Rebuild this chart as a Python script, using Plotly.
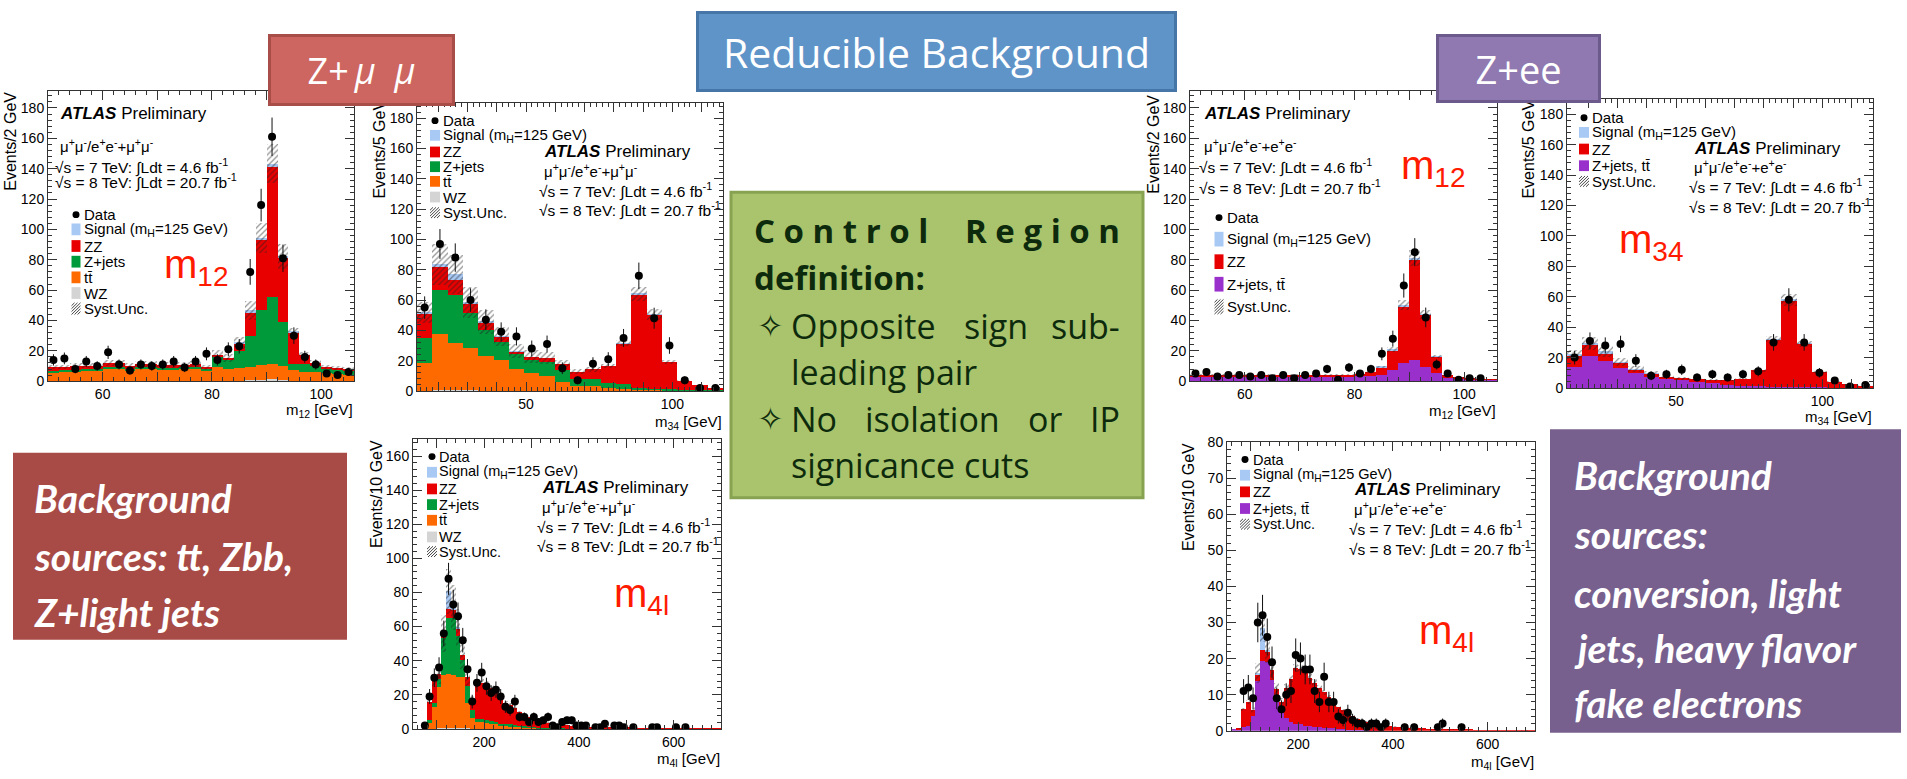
import numpy as np
import plotly.graph_objects as go

W, H = 1907, 779
ROOT_FONT = "Liberation Sans, Arial, sans-serif"
SLIDE_FONT = "Open Sans, sans-serif"
BOX_FONT = "Lato, sans-serif"

# sample colours
C_SIG = "#a9c9f5"
C_ZZ = "#e80000"
C_ZJ = "#009a3a"
C_TT = "#ff6a00"
C_WZ = "#d4d4d4"
C_ZJTT = "#9a30cc"
C_LABEL = "#ff1a00"

# binning
M12_RANGE, M12_NBINS = (50, 106), 28
M34_RANGE, M34_NBINS = (12.7, 117.3), 20
M4L_RANGE, M4L_NBINS = (50, 700), 65

# ---------------- Z + mu mu control region ----------------
M12MM_DATA = [14, 15, 8, 13, 10, 19, 11, 7, 11, 10, 11, 13, 9, 13, 18, 14, 21, 23, 72, 116, 161, 81, 30, 16, 11, 5, 4, 6]
M12MM_WZ = [0, 0, 0, 0, 0, 0, 0, 0, 0, 0, 0, 0, 0, 0, 0, 0, 0, 0.2, 0.4, 0.8, 1.2, 0.6, 0.2, 0.1, 0, 0, 0, 0]
M12MM_TT = [5.5, 6, 6.5, 7, 7, 8.5, 8.5, 7, 8, 8, 7.5, 7.5, 8, 8, 6.5, 9.5, 8, 8.5, 9, 9.5, 10, 9.5, 7, 6, 6, 5, 4.5, 4]
M12MM_ZJ = [1, 1, 1, 1, 1, 1, 1, 1, 1, 1, 1, 1, 1, 1, 2, 6, 6, 11.3, 20.3, 36.5, 44, 28.5, 4, 5, 4, 3, 3, 3]
M12MM_ZZ = [2.5, 2, 2.5, 2, 2, 2.5, 2.5, 2, 2, 2, 2, 2, 1.5, 2, 0.5, 1.5, 1, 4.8, 15.7, 46, 86, 43, 21, 6, 2, 1, 1, 1]
M12MM_SIG = [0, 0, 0, 0, 0, 0, 0, 0, 0, 0, 0, 0, 0, 0, 0, 0, 0, 0.3, 1, 1.5, 2, 0.5, 0.2, 0, 0, 0, 0, 0]

M34MM_DATA = [55, 97, 88, 60, 47, 39, 36, 28, 31, 15, 7, 18, 21, 35, 76, 48, 30, 7, 2, 2]
M34MM_WZ = [0.3, 0.5, 0.5, 0.4, 0.3, 0.3, 0.2, 0.2, 0.2, 0.2, 0.2, 0.2, 0.3, 0.4, 0.5, 0.4, 0.2, 0.1, 0, 0]
M34MM_TT = [18, 37, 31, 28, 23, 20, 14.5, 11.5, 10, 6, 3, 3, 1.5, 1, 0.5, 0.3, 0.2, 0, 0, 0]
M34MM_ZJ = [16.5, 29, 32, 23, 17, 12, 9.5, 8.5, 9, 7.5, 5, 4.5, 3.5, 3, 1, 0.5, 0.8, 0.8, 0.5, 0.5]
M34MM_ZZ = [16.5, 15, 10, 6.5, 5, 3.5, 2, 2.5, 2.5, 4, 4.5, 6.5, 11, 27, 61.5, 49, 18, 6, 3.5, 1.5]
M34MM_SIG = [0.5, 2, 3.5, 0.5, 0.3, 0.2, 0.1, 0, 0, 0, 0, 0, 0, 0.2, 0.5, 0.3, 0, 0, 0, 0]

M4LMM_DATA = [0, 0, 2, 19, 30, 36, 56, 88, 73, 66,
              52, 35, 16, 27, 33, 25, 21, 23, 19, 13,
              11, 16, 7, 7, 4, 7, 4, 5, 7, 2,
              1, 4, 5, 5, 2, 2, 2, 0, 1, 1,
              3, 0, 2, 2, 1, 0, 1, 0, 0, 0,
              1, 1, 0, 0, 0, 1, 0, 1, 0, 0,
              0, 0, 0, 0, 0]
M4LMM_WZ = [0, 0, 0, 0, 0, 0.3, 0.5, 0.6, 0.6, 0.5,
            0.4, 0.3, 0.2, 0.1, 0.1, 0.1, 0.1, 0.1, 0.1, 0.1,
            0.1, 0, 0, 0, 0, 0, 0, 0, 0, 0,
            0, 0, 0, 0, 0, 0, 0, 0, 0, 0,
            0, 0, 0, 0, 0, 0, 0, 0, 0, 0,
            0, 0, 0, 0, 0, 0, 0, 0, 0, 0,
            0, 0, 0, 0, 0]
M4LMM_TT = [0, 0, 0.5, 4, 13, 24, 31, 31.5, 31, 30,
            30, 15, 6, 4, 4, 3.5, 3, 2.5, 2, 2,
            1.5, 1.5, 1.2, 1, 0.8, 0.6, 0.5, 0.4, 0.3, 0.2,
            0.2, 0.2, 0.1, 0.1, 0, 0, 0, 0, 0, 0,
            0, 0, 0, 0, 0, 0, 0, 0, 0, 0,
            0, 0, 0, 0, 0, 0, 0, 0, 0, 0,
            0, 0, 0, 0, 0]
M4LMM_ZJ = [0, 0, 0, 1, 2, 5, 22, 33, 33.5, 24,
            10, 10, 5, 2, 2, 1.5, 1.5, 1.5, 1, 1,
            1, 0.8, 0.6, 0.5, 0.4, 0.4, 0.3, 0.3, 0.2, 0.2,
            0.1, 0.1, 0.1, 0.1, 0, 0, 0, 0, 0, 0,
            0, 0, 0, 0, 0, 0, 0, 0, 0, 0,
            0, 0, 0, 0, 0, 0, 0, 0, 0, 0,
            0, 0, 0, 0, 0]
M4LMM_ZZ = [0, 0, 1, 11, 13, 3, 2, 5.5, 5, 4.5,
            3, 5, 6, 20, 21, 21, 19.5, 17.5, 16, 12,
            11.5, 9.7, 8.2, 7.1, 5.8, 5, 4.4, 3.7, 3.1, 2.8,
            2.4, 2.1, 2.0, 1.8, 1.8, 1.6, 1.5, 1.3, 1.2, 1.1,
            1.0, 0.9, 0.8, 0.75, 0.7, 0.6, 0.55, 0.5, 0.45, 0.4,
            0.38, 0.35, 0.32, 0.3, 0.28, 0.25, 0.23, 0.21, 0.2, 0.18,
            0.16, 0.15, 0.14, 0.13, 0.12]
M4LMM_SIG = [0, 0, 0, 0, 0, 0, 0.5, 10, 1, 0.3,
             0, 0, 0, 0, 0, 0, 0, 0, 0, 0,
             0, 0, 0, 0, 0, 0, 0, 0, 0, 0,
             0, 0, 0, 0, 0, 0, 0, 0, 0, 0,
             0, 0, 0, 0, 0, 0, 0, 0, 0, 0,
             0, 0, 0, 0, 0, 0, 0, 0, 0, 0,
             0, 0, 0, 0, 0]

# ---------------- Z + e e control region ----------------
M12EE_DATA = [5, 6, 3, 4, 4, 3, 4, 2, 4, 2, 4, 5, 8, 1, 9, 5, 8, 18, 28, 63, 85, 42, 11, 5, 1, 2, 2, 0]
M12EE_ZJTT = [3, 3, 3, 3, 3, 3, 3, 3, 3, 3, 3, 3, 3, 3, 3, 3, 3.5, 4, 7.5, 12, 14, 9.5, 5, 2.5, 1.5, 1, 0.8, 0.7]
M12EE_ZZ = [1, 1, 1, 1, 1, 1, 1, 1, 1, 1, 1, 1, 1, 1, 1.2, 1.7, 2.3, 5, 12.5, 37, 66, 34, 11, 1.2, 0.5, 0.5, 0.4, 0.3]
M12EE_SIG = [0, 0, 0, 0, 0, 0, 0, 0, 0, 0, 0, 0, 0, 0, 0, 0, 0, 0.2, 0.6, 1, 1, 0.3, 0.1, 0, 0, 0, 0, 0]

M34EE_DATA = [20, 31, 28, 29, 18, 8, 9, 12, 7, 9, 7, 9, 11, 30, 58, 30, 10, 5, 1, 2]
M34EE_ZJTT = [14, 21, 18, 13, 10, 7.5, 6, 5, 4, 3, 2, 1.5, 1, 0.7, 0.5, 0.4, 0.3, 0.2, 0.1, 0.1]
M34EE_ZZ = [7.5, 7, 4.5, 3.5, 2, 2, 1.5, 1.5, 1.8, 2.2, 3, 4.5, 10.5, 31, 57, 28.5, 10, 4, 2.2, 1.5]
M34EE_SIG = [0.3, 1.5, 1.5, 0.5, 0.2, 0.1, 0, 0, 0, 0, 0, 0, 0, 0.2, 0.4, 0.2, 0, 0, 0, 0]

M4LEE_DATA = [0, 0, 0, 11, 12, 9, 30, 32, 26, 19,
              9, 6, 10, 11, 21, 20, 17, 17, 11, 8,
              15, 8, 8, 4, 3, 5, 3, 2, 2, 1,
              2, 2, 1, 2, 0, 0, 0, 1, 0, 1,
              0, 0, 0, 0, 1, 2, 0, 0, 0, 1,
              0, 0, 0, 0, 0, 0, 0, 0, 0, 0,
              0, 0, 0, 0, 0]
M4LEE_ZJTT = [0, 0.3, 0.5, 1, 1.5, 4, 13.8, 19.5, 19, 14,
              9.5, 5, 3.5, 2.5, 2, 1.8, 1.5, 1.3, 1.1, 1.0,
              0.9, 0.8, 0.7, 0.6, 0.5, 0.4, 0.3, 0.3, 0.2, 0.2,
              0.1, 0.1, 0, 0, 0, 0, 0, 0, 0, 0,
              0, 0, 0, 0, 0, 0, 0, 0, 0, 0,
              0, 0, 0, 0, 0, 0, 0, 0, 0, 0,
              0, 0, 0, 0, 0]
M4LEE_ZZ = [0, 0, 0.2, 5, 6.5, 1.7, 1.8, 3, 3, 3,
            2, 3, 8.5, 12, 15.5, 15.4, 15, 13.4, 12.3, 11,
            9.8, 8.5, 7.3, 6, 5.2, 4.4, 3.8, 3.1, 2.8, 2.3,
            2.1, 1.9, 1.7, 1.5, 1.35, 1.2, 1.1, 1.0, 0.9, 0.8,
            0.75, 0.7, 0.62, 0.56, 0.5, 0.45, 0.42, 0.38, 0.35, 0.32,
            0.3, 0.28, 0.26, 0.24, 0.22, 0.2, 0.19, 0.18, 0.17, 0.16,
            0.15, 0.14, 0.13, 0.12, 0.11]
M4LEE_SIG = [0, 0, 0, 0, 0, 0, 0.5, 6, 0.5, 0,
             0, 0, 0, 0, 0, 0, 0, 0, 0, 0,
             0, 0, 0, 0, 0, 0, 0, 0, 0, 0,
             0, 0, 0, 0, 0, 0, 0, 0, 0, 0,
             0, 0, 0, 0, 0, 0, 0, 0, 0, 0,
             0, 0, 0, 0, 0, 0, 0, 0, 0, 0,
             0, 0, 0, 0, 0]

# relative systematic uncertainty of the reducible and ZZ/signal parts
SYST_REDUCIBLE = 0.20
SYST_ZZ = 0.07

fig = go.Figure()
annotations, shapes = [], []


def P(x):
    return x / W


def Q(y):
    return 1 - y / H


def add_text(x, y, s, size=14, color="black", family=ROOT_FONT, xanchor="left",
             yanchor="middle", angle=0):
    annotations.append(dict(x=P(x), y=Q(y), xref="paper", yref="paper", text=s,
                            showarrow=False, xanchor=xanchor, yanchor=yanchor,
                            textangle=angle, borderpad=0,
                            font=dict(size=size, color=color, family=family)))


def add_rect(x0, y0, x1, y1, fill, line=None, lw=0, kind="rect"):
    shapes.append(dict(type=kind, xref="paper", yref="paper", x0=P(x0), x1=P(x1),
                       y0=Q(y1), y1=Q(y0), fillcolor=fill,
                       line=dict(color=line or fill, width=lw), layer="above"))


def add_line(x0, y0, x1, y1, color, lw=1):
    shapes.append(dict(type="line", xref="paper", yref="paper", x0=P(x0), x1=P(x1),
                       y0=Q(y0), y1=Q(y1), line=dict(color=color, width=lw), layer="above"))


def add_hatch_box(x0, y0, x1, y1, step=3):
    w, h = x1 - x0, y1 - y0
    d = -h
    while d < w:
        t0, t1 = max(0, -d), min(h, w - d)
        if t1 > t0:
            add_line(x0 + d + t0, y1 - t0, x0 + d + t1, y1 - t1, "#444", 1)
        d += step


def bin_centers(rng, n):
    edges = np.linspace(rng[0], rng[1], n + 1)
    return 0.5 * (edges[:-1] + edges[1:]), edges[1] - edges[0]


def add_panel(i, box, rng, nbins, stack, data, yrange, ydtick, yminor,
              xticks, xlabels, xminor):
    sfx = "" if i == 1 else str(i)
    xa, ya = "x" + sfx, "y" + sfx
    xc, bw = bin_centers(rng, nbins)
    base = np.zeros(nbins)
    red = np.zeros(nbins)
    irr = np.zeros(nbins)
    for vals, color, reducible in stack:
        v = np.asarray(vals, float)
        fig.add_trace(go.Bar(x=xc, y=v, base=base.copy(), width=bw,
                             marker=dict(color=color, line=dict(width=0)),
                             xaxis=xa, yaxis=ya, showlegend=False, hoverinfo="skip"))
        base += v
        if reducible:
            red += v
        else:
            irr += v
    unc = np.sqrt((SYST_REDUCIBLE * red) ** 2 + (SYST_ZZ * irr) ** 2)
    fig.add_trace(go.Bar(x=xc, y=2 * unc, base=base - unc, width=bw,
                         marker=dict(color="rgba(0,0,0,0)", line=dict(width=0),
                                     pattern=dict(shape="/", fgcolor="#222",
                                                  bgcolor="rgba(0,0,0,0)",
                                                  size=4, solidity=0.3)),
                         xaxis=xa, yaxis=ya, showlegend=False, hoverinfo="skip"))
    d = np.asarray(data, float)
    yd = [v if v > 0 else None for v in d]
    fig.add_trace(go.Scatter(x=xc, y=yd, mode="markers",
                             marker=dict(color="black", size=8),
                             error_y=dict(type="data", array=np.sqrt(d), color="#111",
                                          thickness=1, width=0),
                             xaxis=xa, yaxis=ya, showlegend=False, hoverinfo="skip"))
    l, t, r, b = box
    common = dict(showline=True, linecolor="#333", linewidth=1, mirror="ticks",
                  ticks="inside", ticklen=9, tickwidth=1, tickcolor="#333",
                  showgrid=False, zeroline=False,
                  tickfont=dict(family=ROOT_FONT, size=14, color="black"))
    fig.layout["xaxis" + sfx] = dict(domain=[P(l), P(r)], anchor=ya, range=list(rng),
                                     tickmode="array", tickvals=xticks, ticktext=xlabels,
                                     minor=dict(ticks="inside", dtick=xminor, tick0=0,
                                                ticklen=4, tickcolor="#333", showgrid=False),
                                     **common)
    fig.layout["yaxis" + sfx] = dict(domain=[Q(b), Q(t)], anchor=xa, range=list(yrange),
                                     tickmode="linear", dtick=ydtick, tick0=0,
                                     minor=dict(ticks="inside", dtick=yminor, tick0=0,
                                                ticklen=4, tickcolor="#333", showgrid=False),
                                     **common)


def add_legend(entries, xbox, xtext, ys, bw, bh, size=15):
    for (kind, color, label), y in zip(entries, ys):
        if kind == "dot":
            add_rect(xbox - 3.5, y - 3.5, xbox + 3.5, y + 3.5, "black", kind="circle")
        elif kind == "box":
            add_rect(xbox - bw / 2, y - bh / 2, xbox + bw / 2, y + bh / 2, color)
        else:
            add_hatch_box(xbox - bw / 2, y - bh / 2, xbox + bw / 2, y + bh / 2)
        add_text(xtext, y, label, size=size)


CHAN_MM = "μ<sup>+</sup>μ<sup>-</sup>/e<sup>+</sup>e<sup>-</sup>+μ<sup>+</sup>μ<sup>-</sup>"
CHAN_EE = "μ<sup>+</sup>μ<sup>-</sup>/e<sup>+</sup>e<sup>-</sup>+e<sup>+</sup>e<sup>-</sup>"
LUMI7 = "√s = 7 TeV: ∫Ldt = 4.6 fb<sup>-1</sup>"
LUMI8 = "√s = 8 TeV: ∫Ldt = 20.7 fb<sup>-1</sup>"
ATLAS = "<b><i>ATLAS</i></b> Preliminary"

LEG_MM = [("dot", None, "Data"), ("box", C_SIG, "Signal (m<sub>H</sub>=125 GeV)"),
          ("box", C_ZZ, "ZZ"), ("box", C_ZJ, "Z+jets"), ("box", C_TT, "tt\u0304"),
          ("box", C_WZ, "WZ"), ("hatch", None, "Syst.Unc.")]
LEG_EE = [("dot", None, "Data"), ("box", C_SIG, "Signal (m<sub>H</sub>=125 GeV)"),
          ("box", C_ZZ, "ZZ"), ("box", C_ZJTT, "Z+jets, tt\u0304"),
          ("hatch", None, "Syst.Unc.")]


def atlas_block(x, ys, chan):
    add_text(x, ys[0], ATLAS, size=17)
    add_text(x, ys[1], chan, size=15)
    add_text(x - 5, ys[2], LUMI7, size=15.5)
    add_text(x - 5, ys[3], LUMI8, size=15.5)


M12_TICKS = [50, 60, 70, 80, 90, 100]
M12_LABELS = ["", "60", "", "80", "", "100"]
M34_TICKS = [20, 30, 40, 50, 60, 70, 80, 90, 100, 110]
M34_LABELS = ["", "", "", "50", "", "", "", "", "100", ""]
M4L_TICKS = [100, 200, 300, 400, 500, 600, 700]
M4L_LABELS = ["", "200", "", "400", "", "600", ""]

# ---- panel 1 : m12, Z+mumu ----
add_panel(1, (48, 85, 354, 381), M12_RANGE, M12_NBINS,
          [(M12MM_WZ, C_WZ, True), (M12MM_TT, C_TT, True), (M12MM_ZJ, C_ZJ, True),
           (M12MM_ZZ, C_ZZ, False), (M12MM_SIG, C_SIG, False)],
          M12MM_DATA, (0, 191), 20, 4, M12_TICKS, M12_LABELS, 2)
atlas_block(59, [108, 140, 162, 177], CHAN_MM)
add_legend(LEG_MM, 76, 83, [211, 226, 243, 259, 275, 291, 307], 9, 12)
add_text(163, 264, "m<sub>12</sub>", size=40, color=C_LABEL)
add_text(11, 85, "Events/2 GeV", size=16, xanchor="center", yanchor="top", angle=-90)
add_text(354, 411, "m<sub>12</sub> [GeV]", size=15, xanchor="right")

# ---- panel 2 : m34, Z+mumu ----
add_panel(2, (417, 97, 723, 391), M34_RANGE, M34_NBINS,
          [(M34MM_WZ, C_WZ, True), (M34MM_TT, C_TT, True), (M34MM_ZJ, C_ZJ, True),
           (M34MM_ZZ, C_ZZ, False), (M34MM_SIG, C_SIG, False)],
          M34MM_DATA, (0, 190), 20, 4, M34_TICKS, M34_LABELS, 2)
atlas_block(543, [147, 166, 186, 206], CHAN_MM)
add_legend(LEG_MM, 435, 442, [115, 130, 147, 162, 177, 193, 209], 10, 11)
add_text(380, 93, "Events/5 GeV", size=16, xanchor="center", yanchor="top", angle=-90)
add_text(723, 423, "m<sub>34</sub> [GeV]", size=15, xanchor="right")

# ---- panel 3 : m4l, Z+mumu ----
add_panel(3, (413, 440, 721, 736), M4L_RANGE, M4L_NBINS,
          [(M4LMM_WZ, C_WZ, True), (M4LMM_TT, C_TT, True), (M4LMM_ZJ, C_ZJ, True),
           (M4LMM_ZZ, C_ZZ, False), (M4LMM_SIG, C_SIG, False)],
          M4LMM_DATA, (0, 170), 20, 4, M4L_TICKS, M4L_LABELS, 20)
atlas_block(541, [490, 509, 529, 549], CHAN_MM)
add_legend(LEG_MM, 432, 438, [458, 474, 491, 507, 523, 540, 555], 10, 11, size=14.5)
add_text(613, 600, "m<sub>4l</sub>", size=40, color=C_LABEL)
add_text(377, 440, "Events/10 GeV", size=16, xanchor="center", yanchor="top", angle=-90)
add_text(721, 767, "m<sub>4l</sub> [GeV]", size=15, xanchor="right")

# ---- panel 4 : m12, Z+ee ----
add_panel(4, (1190, 85, 1497, 381), M12_RANGE, M12_NBINS,
          [(M12EE_ZJTT, C_ZJTT, True), (M12EE_ZZ, C_ZZ, False), (M12EE_SIG, C_SIG, False)],
          M12EE_DATA, (0, 191), 20, 4, M12_TICKS, M12_LABELS, 2)
atlas_block(1203, [108, 140, 162, 183], CHAN_EE)
add_legend(LEG_EE, 1219, 1226, [214, 236, 259, 282, 305], 9, 15)
add_text(1400, 163, "m<sub>12</sub>", size=40, color=C_LABEL)
add_text(1154, 88, "Events/2 GeV", size=16, xanchor="center", yanchor="top", angle=-90)
add_text(1497, 412, "m<sub>12</sub> [GeV]", size=15, xanchor="right")

# ---- panel 5 : m34, Z+ee ----
add_panel(5, (1567, 93, 1873, 388), M34_RANGE, M34_NBINS,
          [(M34EE_ZJTT, C_ZJTT, True), (M34EE_ZZ, C_ZZ, False), (M34EE_SIG, C_SIG, False)],
          M34EE_DATA, (0, 190), 20, 4, M34_TICKS, M34_LABELS, 2)
atlas_block(1693, [143, 162, 182, 203], CHAN_EE)
add_legend(LEG_EE, 1584, 1591, [112, 127, 144, 161, 177], 10, 11)
add_text(1618, 239, "m<sub>34</sub>", size=40, color=C_LABEL)
add_text(1529, 93, "Events/5 GeV", size=16, xanchor="center", yanchor="top", angle=-90)
add_text(1873, 418, "m<sub>34</sub> [GeV]", size=15, xanchor="right")

# ---- panel 6 : m4l, Z+ee ----
add_panel(6, (1227, 443, 1535, 738), M4L_RANGE, M4L_NBINS,
          [(M4LEE_ZJTT, C_ZJTT, True), (M4LEE_ZZ, C_ZZ, False), (M4LEE_SIG, C_SIG, False)],
          M4LEE_DATA, (0, 80), 10, 2, M4L_TICKS, M4L_LABELS, 20)
atlas_block(1353, [492, 511, 531, 552], CHAN_EE)
add_legend(LEG_EE, 1245, 1252, [461, 477, 494, 511, 527], 10, 11, size=14.5)
add_text(1418, 638, "m<sub>4l</sub>", size=40, color=C_LABEL)
add_text(1189, 443, "Events/10 GeV", size=16, xanchor="center", yanchor="top", angle=-90)
add_text(1535, 770, "m<sub>4l</sub> [GeV]", size=15, xanchor="right")

# ---- control-region definition box ----
DARK = "#0d2a0d"
add_rect(731, 188, 1143, 500, "#a9c46c", line="#87a251", lw=3)
add_text(753, 227, "<b>C o n t r o l</b>", size=33, color=DARK, family=SLIDE_FONT)
add_text(1121, 227, "<b>R e g i o n</b>", size=33, color=DARK, family=SLIDE_FONT, xanchor="right")
add_text(753, 275, "<b>definition:</b>", size=33, color=DARK, family=SLIDE_FONT)
for yy in (325, 420):
    add_text(770, yy, "✧", size=32, color=DARK, family="DejaVu Sans", xanchor="center")
add_text(790, 325, "Opposite", size=34, color=DARK, family=SLIDE_FONT)
add_text(996, 325, "sign", size=34, color=DARK, family=SLIDE_FONT, xanchor="center")
add_text(1121, 325, "sub-", size=34, color=DARK, family=SLIDE_FONT, xanchor="right")
add_text(790, 372, "leading pair", size=34, color=DARK, family=SLIDE_FONT)
add_text(790, 420, "No", size=34, color=DARK, family=SLIDE_FONT)
add_text(932, 420, "isolation", size=34, color=DARK, family=SLIDE_FONT, xanchor="center")
add_text(1045, 420, "or", size=34, color=DARK, family=SLIDE_FONT, xanchor="center")
add_text(1121, 420, "IP", size=34, color=DARK, family=SLIDE_FONT, xanchor="right")
add_text(790, 467, "signicance cuts", size=34, color=DARK, family=SLIDE_FONT)

# ---- background-source boxes ----
add_rect(13, 454, 347, 645, "#a84b46")
for yy, s in zip((500, 560, 617), ("Background", "sources: tt, Zbb,", "Z+light jets")):
    add_text(33, yy, "<b><i>" + s + "</i></b>", size=39, color="white", family=BOX_FONT)

add_rect(1550, 430, 1901, 740, "#77608d")
for yy, s in zip((477, 537, 597, 653, 710),
                 ("Background", "sources:", "conversion, light", "jets, heavy flavor",
                  "fake electrons")):
    add_text(1573, yy, "<b><i>" + s + "</i></b>", size=39, color="white", family=BOX_FONT)


# ---- header boxes (drawn last so they sit on top of the frames) ----
def header(cx, cy, w, h, text, fill, border, size):
    annotations.append(dict(x=P(cx), y=Q(cy), xref="paper", yref="paper", text=text,
                            showarrow=False, xanchor="center", yanchor="middle",
                            width=w - 3, height=h - 3, bgcolor=fill, bordercolor=border,
                            borderwidth=3, borderpad=0, align="center", valign="middle",
                            font=dict(size=size, color="white", family=SLIDE_FONT)))


header(361, 63.5, 184, 69, "Z+\u2009<i>μ</i>\u00a0\u00a0<i>μ</i>", "#cd6660", "#a94d48", 36)
header(936, 44, 478, 78, "Reducible Background", "#5f94c9", "#4676a8", 41)
header(1518, 62, 162, 66, "Z+ee", "#9079b0", "#6d5a8c", 38)

fig.update_layout(width=W, height=H, margin=dict(l=0, r=0, t=0, b=0),
                  paper_bgcolor="white", plot_bgcolor="white",
                  barmode="overlay", bargap=0, showlegend=False,
                  annotations=annotations, shapes=shapes)
fig.write_html("out.html")
